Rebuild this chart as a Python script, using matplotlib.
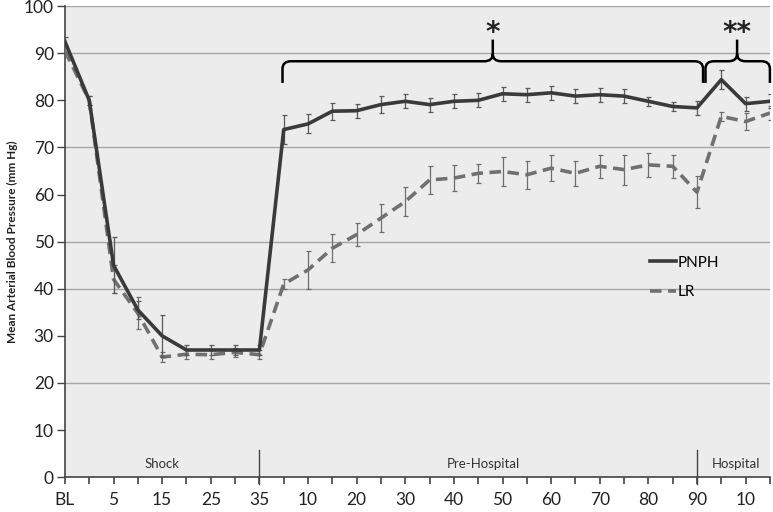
import numpy as np
import matplotlib
matplotlib.use("Agg")
import matplotlib.pyplot as plt
from matplotlib.path import Path
from matplotlib.patches import PathPatch
from matplotlib.lines import Line2D

# category labels (every other one shown, like the original)
xLabels = ['BL', '', '5', '', '15', '', '25', '', '35', '',
           '10', '', '20', '', '30', '', '40', '', '50', '',
           '60', '', '70', '', '80', '', '90', '', '10', '']

pnph = [92.5, 80, 45, 35.5, 30, 27, 27, 27, 27, 73.8,
        75, 77.7, 77.8, 79.1, 79.8, 79.1, 79.8, 80, 81.4, 81.2,
        81.6, 80.9, 81.2, 80.9, 79.8, 78.7, 78.4, 84.4, 79.3, 79.8]
pnphErr = [1, 1, 6, 2, 4.5, 1, 1, 1, 1, 3,
           2, 1.8, 1.5, 1.8, 1.5, 1.5, 1.5, 1.5, 1.5, 1.5,
           1.5, 1.5, 1.5, 1.5, 1, 1, 1.5, 2, 1.5, 1.5]

lr = [90.5, 80, 42, 34.8, 25.5, 26.1, 26, 26.5, 26, 41,
      44, 48.6, 51.5, 55, 58.5, 63.1, 63.5, 64.5, 64.9, 64.2,
      65.6, 64.5, 66.0, 65.3, 66.3, 66.0, 60.5, 76.6, 75.5, 77.3]
lrErr = [1, 1, 3, 3.4, 1, 1, 1, 1, 1, 1,
         4, 3, 2.5, 3, 3, 3, 2.7, 2, 3, 3,
         2.7, 2.7, 2.5, 3.2, 2.5, 2.5, 3.4, 1, 1.8, 1.5]

phases = ['Shock', 'Pre-Hospital', 'Hospital']
phaseX = [4, 17.2, 27.6]
phaseBreaks = [8, 26]

plt.rcParams['font.family'] = ['Lato', 'DejaVu Sans']

fig = plt.figure(figsize=(7.73, 5.12), dpi=100)
ax = fig.add_axes([0.084, 0.068, 0.912, 0.92])
ax.set_facecolor('#ececec')

x = np.arange(len(xLabels))

#grid lines (only the ones that show in the original)
for g in [20, 40, 50, 70, 90, 100]:
    ax.axhline(g, color='#a6a6a6', lw=1.0, zorder=1)

lrStyle = dict(color='#707070', lw=2.6, ls=(0, (3.2, 1.8)))
pnphStyle = dict(color='#3a3a3a', lw=2.6)

ax.errorbar(x, lr, yerr=lrErr, elinewidth=0.9, ecolor='#6e6e6e', capsize=1.8,
            capthick=0.9, zorder=3, **lrStyle)
ax.errorbar(x, pnph, yerr=pnphErr, elinewidth=0.9, ecolor='#5a5a5a', capsize=1.8,
            capthick=0.9, zorder=4, **pnphStyle)

# phase separators and labels
for b in phaseBreaks:
    ax.plot([b, b], [-1.5, 5.8], color='#444444', lw=1.0, clip_on=False, zorder=2)
for name, px in zip(phases, phaseX):
    ax.text(px, 1.5, name, ha='center', va='bottom', fontsize=9.5, color='#333333')


def bracket(x0, x1, xc, yh, ylo, ytip, dx=0.35, dy=1.6):
    verts = [(x0, ylo), (x0, yh - dy), (x0, yh), (x0 + dx, yh),
             (xc - dx, yh), (xc, yh), (xc, yh + dy), (xc, ytip),
             (xc, yh + dy), (xc, yh), (xc + dx, yh),
             (x1 - dx, yh), (x1, yh), (x1, yh - dy), (x1, ylo)]
    codes = [Path.MOVETO, Path.LINETO, Path.CURVE3, Path.CURVE3,
             Path.LINETO, Path.CURVE3, Path.CURVE3, Path.LINETO,
             Path.MOVETO, Path.CURVE3, Path.CURVE3,
             Path.LINETO, Path.CURVE3, Path.CURVE3, Path.LINETO]
    ax.add_patch(PathPatch(Path(verts, codes), fill=False, lw=1.8,
                           color='black', clip_on=False, zorder=5))


bracket(8.95, 26.25, 17.6, 88.3, 83.7, 92.9)
bracket(26.35, 29.0, 27.65, 88.3, 83.7, 92.9)
ax.text(17.6, 91.3, '*', ha='center', va='bottom', fontsize=20, color='#222222',
        family='DejaVu Sans', fontweight='bold')
ax.text(27.65, 91.3, '**', ha='center', va='bottom', fontsize=20, color='#222222',
        family='DejaVu Sans', fontweight='bold')

ax.set_xlim(0, len(xLabels) - 1)
ax.set_ylim(0, 100)
ax.set_xticks(x)
ax.set_xticklabels(xLabels, fontsize=12.5, color='#222222')
ax.set_yticks(np.arange(0, 101, 10))
ax.tick_params(axis='y', labelsize=12.5, labelcolor='#222222', length=6, width=1, color='#444444', pad=2)
ax.tick_params(axis='x', length=5, width=1.2, color='#444444', pad=6)

for s in ['top', 'right']:
    ax.spines[s].set_visible(False)
ax.spines['left'].set_color('#444444')
ax.spines['bottom'].set_color('#444444')
ax.spines['left'].set_linewidth(1.2)
ax.spines['bottom'].set_linewidth(1.2)

ax.set_ylabel('Mean Arterial Blood Pressure (mm Hg)', fontsize=8.5, fontweight='bold',
              color='#222222', labelpad=4)

handles = [Line2D([], [], **pnphStyle), Line2D([], [], **lrStyle)]
ax.legend(handles, ['PNPH', 'LR'], loc='center left', bbox_to_anchor=(0.81, 0.424),
          frameon=False, fontsize=11, handlelength=1.7, handletextpad=0.1,
          labelspacing=1.0)

fig.savefig('out.png', dpi=100)
